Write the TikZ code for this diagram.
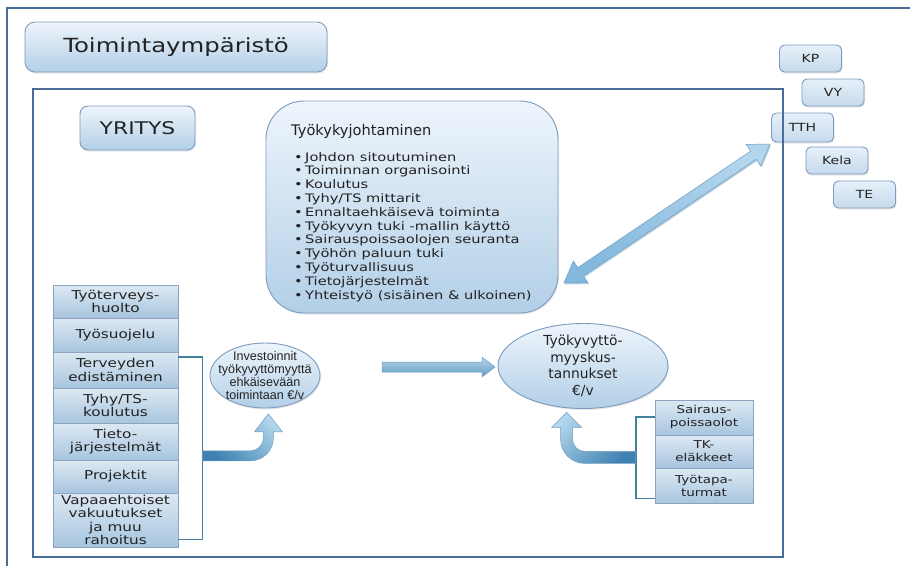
\documentclass[tikz,border=0pt]{standalone}
\usepackage{fontspec}
\setmainfont{DejaVu Sans}[FakeStretch=1.25]
\newfontfamily\plainsans{DejaVu Sans}
\newfontfamily\arialfont{Liberation Sans}
\usetikzlibrary{calc,shadows,shapes.geometric}

\definecolor{framecol}{HTML}{4A6C9B}
\definecolor{boxtop}{HTML}{EEF5FC}
\definecolor{boxbot}{HTML}{B2CFE7}
\definecolor{boxline}{HTML}{7D9BBE}
\definecolor{tagtop}{HTML}{E6F0F9}
\definecolor{tagbot}{HTML}{C6DAEC}
\definecolor{stacktop}{HTML}{DDE9F4}
\definecolor{stackbot}{HTML}{A7C5DE}
\definecolor{stackline}{HTML}{8CA4BF}
\definecolor{arrowlight}{HTML}{B3D6EC}
\definecolor{arrowmid}{HTML}{84B8DD}
\definecolor{arrowdark}{HTML}{3F82B2}
\definecolor{arrowedge}{HTML}{6E9EC4}
\definecolor{bracketcol}{HTML}{437F9F}
\definecolor{txt}{HTML}{222222}

\begin{document}
\begin{tikzpicture}[x=1pt,y=-1pt,
  framestyle/.style={draw=framecol, line width=1.8pt},
  softshadow/.style={drop shadow={opacity=.18, shadow xshift=1pt, shadow yshift=-1.5pt}},
  roundbox/.style={draw=boxline, line width=0.9pt, top color=boxtop, bottom color=boxbot,
    text=txt, inner sep=0pt, softshadow},
  tagbox/.style={roundbox, top color=tagtop, bottom color=tagbot, rounded corners=5pt,
    minimum width=62pt, minimum height=27pt, font=\fontsize{11.2}{13}\selectfont},
  stackbox/.style={draw=stackline, line width=0.8pt, top color=stacktop, bottom color=stackbot,
    text=txt, align=center, inner sep=0pt, minimum width=125pt,
    font=\fontsize{12.2}{13.5}\selectfont},
  rstackbox/.style={stackbox, minimum width=98pt, font=\fontsize{10.8}{13}\selectfont},
  ovalbox/.style={ellipse, draw=boxline, line width=0.9pt, top color=boxtop, bottom color=boxbot,
    inner sep=0pt, softshadow},
  bracket/.style={draw=bracketcol, line width=1.8pt},
  blockarrow/.style={draw=arrowedge, line width=0.5pt, top color=arrowlight, bottom color=arrowdark}
]
\useasboundingbox (0,0) rectangle (910,566);
\fill[white] (0,0) rectangle (910,566);

% outer frame (only its top and left sides lie inside the page)
\coordinate (outerBL) at (7,566);
\coordinate (outerTL) at (7,8);
\coordinate (outerTR) at (910,8);
\draw[framestyle] (outerBL) -- (outerTL) -- (outerTR);

% environment title
\node[roundbox, rounded corners=10pt, minimum width=302pt, minimum height=50pt,
  font=\fontsize{19.5}{22}\selectfont] (env) at (176,47) {Toimintaympäristö};

% external partners
\node[tagbox] (kp)   at (810.5,58.5) {KP};
\node[tagbox] (vy)   at (833,92.5)   {VY};
\node[tagbox, minimum height=29pt] (tth)  at (802.5,127.5) {TTH};
\node[tagbox] (kela) at (837,160.5)  {Kela};
\node[tagbox] (te)   at (864.5,194.5) {TE};

% company frame
\coordinate (inTL) at (33,89);
\coordinate (inBR) at (783,557);
\draw[framestyle] (inTL) rectangle (inBR);

\node[roundbox, rounded corners=8pt, minimum width=115pt, minimum height=44pt,
  font=\fontsize{17.5}{20}\selectfont] (yritys) at (137.5,128) {YRITYS};

% work ability management box
\node[roundbox, rounded corners=38pt, minimum width=292pt, minimum height=212pt] (tkj) at (412,207) {};
\node[anchor=base west, inner sep=0pt, text=txt, font=\plainsans\fontsize{14.6}{16}\selectfont]
  (tkjhead) at (291,135) {Työkykyjohtaminen};
\node[anchor=north west, inner sep=0pt, align=left, text=txt, font=\fontsize{11.7}{13.8}\selectfont]
  (tkjlist) at (294,152) {%
  \makebox[11pt][l]{\textbullet}Johdon sitoutuminen\\
  \makebox[11pt][l]{\textbullet}Toiminnan organisointi\\
  \makebox[11pt][l]{\textbullet}Koulutus\\
  \makebox[11pt][l]{\textbullet}Tyhy/TS mittarit\\
  \makebox[11pt][l]{\textbullet}Ennaltaehkäisevä toiminta\\
  \makebox[11pt][l]{\textbullet}Työkyvyn tuki -mallin käyttö\\
  \makebox[11pt][l]{\textbullet}Sairauspoissaolojen seuranta\\
  \makebox[11pt][l]{\textbullet}Työhön paluun tuki\\
  \makebox[11pt][l]{\textbullet}Työturvallisuus\\
  \makebox[11pt][l]{\textbullet}Tietojärjestelmät\\
  \makebox[11pt][l]{\textbullet}Yhteistyö (sisäinen \& ulkoinen)};

% two-way arrow between management and partners
\coordinate (dA) at (564,283);
\coordinate (dB) at (770,144);
\coordinate (dA1) at ($(dA)!20pt!(dB)$);
\coordinate (dB1) at ($(dB)!20pt!(dA)$);
\fill[arrowedge!50] ($(dA)+(1,1.5)$) -- ($(dA1)!13pt!90:(dB)+(1,1.5)$) -- ($(dA1)!5pt!90:(dB)+(1,1.5)$)
  -- ($(dB1)!5pt!-90:(dA)+(1,1.5)$) -- ($(dB1)!13pt!-90:(dA)+(1,1.5)$) -- ($(dB)+(1,1.5)$)
  -- ($(dB1)!13pt!90:(dA)+(1,1.5)$) -- ($(dB1)!5pt!90:(dA)+(1,1.5)$)
  -- ($(dA1)!5pt!-90:(dB)+(1,1.5)$) -- ($(dA1)!13pt!-90:(dB)+(1,1.5)$) -- cycle;
\path[draw=arrowedge, line width=0.5pt, top color=arrowlight, bottom color=arrowmid, shading angle=-34]
  (dA) -- ($(dA1)!13pt!90:(dB)$) -- ($(dA1)!5pt!90:(dB)$)
  -- ($(dB1)!5pt!-90:(dA)$) -- ($(dB1)!13pt!-90:(dA)$) -- (dB)
  -- ($(dB1)!13pt!90:(dA)$) -- ($(dB1)!5pt!90:(dA)$)
  -- ($(dA1)!5pt!-90:(dB)$) -- ($(dA1)!13pt!-90:(dB)$) -- cycle;

% preventive activities stack
\node[stackbox, minimum height=33pt] (s1) at (115.5,301.5) {Työterveys-\\huolto};
\node[stackbox, minimum height=34pt] (s2) at (115.5,335)   {Työsuojelu};
\node[stackbox, minimum height=36pt] (s3) at (115.5,370)   {Terveyden\\edistäminen};
\node[stackbox, minimum height=35pt] (s4) at (115.5,405.5) {Tyhy/TS-\\koulutus};
\node[stackbox, minimum height=37pt] (s5) at (115.5,441.5) {Tieto-\\järjestelmät};
\node[stackbox, minimum height=33pt] (s6) at (115.5,476.5) {Projektit};
\node[stackbox, minimum height=54pt] (s7) at (115.5,520)   {Vapaaehtoiset\\vakuutukset\\ja muu\\rahoitus};

\draw[bracket] ($(s3.north east)+(0,5)$) -- ++(24,0) coordinate (lbr) |- ($(s7.south east)+(0,-8)$);

% investment ellipse
\node[ovalbox, minimum width=110pt, minimum height=65pt,
  label={[name=invtext, align=center, text=txt, font=\arialfont\fontsize{12.6}{13}\selectfont]center:Investoinnit\\työkyvyttömyyttä\\ehkäisevään\\toimintaan €/v}]
  (inv) at (265,375.5) {};

% cost ellipse
\node[ovalbox, minimum width=170pt, minimum height=85pt,
  label={[name=costtext, align=center, text=txt, font=\plainsans\fontsize{13.8}{16.6}\selectfont]center:Työkyvyttö-\\myyskus-\\tannukset\\€/v}]
  (cost) at (583,366) {};

% cost components stack
\node[rstackbox, minimum height=35pt] (r1) at (704,417.5) {Sairaus-\\poissaolot};
\node[rstackbox, minimum height=33pt] (r2) at (704,451.5) {TK-\\eläkkeet};
\node[rstackbox, minimum height=35pt] (r3) at (704,485.5) {Työtapa-\\turmat};

\draw[bracket] ($(r1.north west)+(0,17)$) -- ++(-19,0) coordinate (rbr) |- ($(r3.south west)+(0,-5)$);

% curved arrow: stack -> investments
\coordinate (la) at ($(lbr)!0.52!(lbr |- s7.south east)$);
\begin{scope}[shift={(la)}]
  \path[blockarrow, left color=arrowdark, right color=arrowlight, shading angle=135]
    (0,5) -- (48,5) .. controls (60.7,5) and (71,-5.3) .. (71,-18) -- (71,-24) -- (80,-24)
    -- (66,-42) -- (52,-24) -- (61,-24) -- (61,-18) .. controls (61,-10.8) and (55.2,-5) .. (48,-5)
    -- (0,-5) -- cycle;
\end{scope}

% straight arrow: investments -> costs
\coordinate (ha) at (382,367);
\begin{scope}[shift={(ha)}]
  \path[blockarrow, top color=arrowlight, bottom color=arrowdark!80]
    (0,-5) -- (100,-5) -- (100,-10) -- (113,0) -- (100,10) -- (100,5) -- (0,5) -- cycle;
\end{scope}

% curved arrow: cost components -> costs
\coordinate (ra) at ($(rbr)!0.47!(rbr |- r3.south west)$);
\begin{scope}[shift={(ra)}]
  \path[blockarrow, left color=arrowlight, right color=arrowdark, shading angle=45]
    (0,6) -- (-51,6) .. controls (-64.2,6) and (-75,-4.8) .. (-75,-18) -- (-75,-30) -- (-84,-30)
    -- (-69,-45) -- (-54,-30) -- (-63,-30) -- (-63,-18) .. controls (-63,-11.4) and (-57.6,-6) .. (-51,-6)
    -- (0,-6) -- cycle;
\end{scope}

\end{tikzpicture}
\end{document}
